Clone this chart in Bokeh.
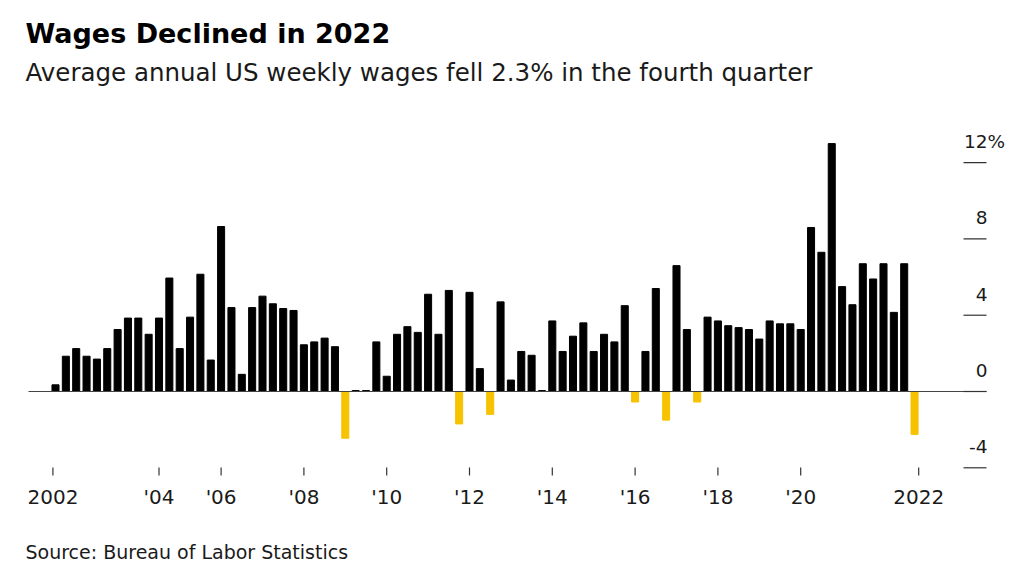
from bokeh.plotting import figure
from bokeh.models import Range1d, ColumnDataSource
from bokeh.core.properties import value
from bokeh.embed import file_html
from bokeh.resources import INLINE

# quarterly % change, 2002 Q1 .. 2022 Q4
wages = [
    0.35, 1.85, 2.25, 1.85, 1.7, 2.25, 3.25, 3.85,      # 2002-2003
    3.85, 3.0, 3.85, 5.95, 2.25, 3.9, 6.15, 1.65,       # 2004-2005
    8.65, 4.4, 0.9, 4.4, 5.0, 4.6, 4.35, 4.25,          # 2006-2007
    2.45, 2.6, 2.8, 2.35, -2.45, 0.05, 0.05, 2.6,       # 2008-2009
    0.8, 3.0, 3.4, 3.1, 5.1, 3.0, 5.3, -1.7,            # 2010-2011
    5.2, 1.2, -1.2, 4.7, 0.6, 2.1, 1.9, 0.05,           # 2012-2013
    3.7, 2.1, 2.9, 3.6, 2.1, 3.0, 2.6, 4.5,             # 2014-2015
    -0.55, 2.1, 5.4, -1.5, 6.6, 3.25, -0.55, 3.9,       # 2016-2017
    3.7, 3.45, 3.35, 3.25, 2.75, 3.7, 3.55, 3.55,       # 2018-2019
    3.25, 8.6, 7.3, 13.0, 5.5, 4.55, 6.7, 5.9,          # 2020-2021
    6.7, 4.15, 6.7, -2.25,                              # 2022
]
quarter = list(range(len(wages)))

x_ticks = [-0.25, 10, 16, 24, 32, 40, 48, 56, 64, 72, 83.4]
x_labels = ["2002", "'04", "'06", "'08", "'10", "'12", "'14", "'16", "'18", "'20", "2022"]

y_ticks = [-4, 0, 4, 8, 12]
y_labels = ["-4", "0", "4", "8", "12"]
y_suffix = ["", "", "", "", "%"]

W, H = 1016, 570
BLACK = "#000000"
YELLOW = "#f7c200"
FONT = value("DejaVu Sans")
TXT = "#1a1a1a"

colors = [BLACK if v >= 0 else YELLOW for v in wages]
src = ColumnDataSource(dict(x=quarter, top=wages, color=colors))

p = figure(width=W, height=H, output_backend="svg", toolbar_location=None, title=None,
           x_range=Range1d(-5.314, 92.85), y_range=Range1d(-9.386, 20.503),
           x_axis_location=None, y_axis_location=None, min_border=0)
p.extra_x_ranges = {"px": Range1d(0, W)}
p.extra_y_ranges = {"px": Range1d(H, 0)}
p.outline_line_color = None
p.grid.visible = False
p.background_fill_color = "white"
p.border_fill_color = "white"

p.vbar(x="x", top="top", bottom=0, width=0.68, color="color", source=src)

# zero line
p.segment(x0=[28], x1=[986], y0=[0], y1=[0], x_range_name="px",
          line_color="#444444", line_width=1.2)

# right-hand value scale: short ticks with labels sitting above them
yt = ColumnDataSource(dict(y=y_ticks, lab=y_labels, suf=y_suffix))
p.segment(x0=963, x1=986, y0="y", y1="y", source=yt, x_range_name="px",
          line_color="#333333", line_width=1.2)
p.text(x=987, y="y", text="lab", source=yt, x_range_name="px", text_align="right",
       text_baseline="alphabetic", y_offset=-21, text_font=FONT, text_font_size="18.5px",
       text_color=TXT)
p.text(x=987, y="y", text="suf", source=yt, x_range_name="px", text_align="left",
       text_baseline="alphabetic", y_offset=-21, text_font=FONT, text_font_size="18.5px",
       text_color=TXT)

# time axis
xt = ColumnDataSource(dict(x=x_ticks, lab=x_labels))
p.segment(x0="x", x1="x", y0=467, y1=475, source=xt, y_range_name="px",
          line_color="#333333", line_width=1.2)
p.text(x="x", y=496, text="lab", source=xt, y_range_name="px", text_align="center",
       text_baseline="alphabetic", text_font=FONT, text_font_size="20px", text_color=TXT)

# headline, subtitle, source
p.text(x=[25], y=[33], text=["Wages Declined in 2022"], x_range_name="px", y_range_name="px",
       text_font=FONT, text_font_style="bold", text_font_size="27px", text_color="#000000",
       text_baseline="alphabetic")
p.text(x=[25], y=[72], text=["Average annual US weekly wages fell 2.3% in the fourth quarter"],
       x_range_name="px", y_range_name="px", text_font=FONT, text_font_size="24.5px",
       text_color=TXT, text_baseline="alphabetic")
p.text(x=[25], y=[551], text=["Source: Bureau of Labor Statistics"], x_range_name="px",
       y_range_name="px", text_font=FONT, text_font_size="19px", text_color=TXT,
       text_baseline="alphabetic")

open("out.html", "w").write(file_html(p, INLINE))
